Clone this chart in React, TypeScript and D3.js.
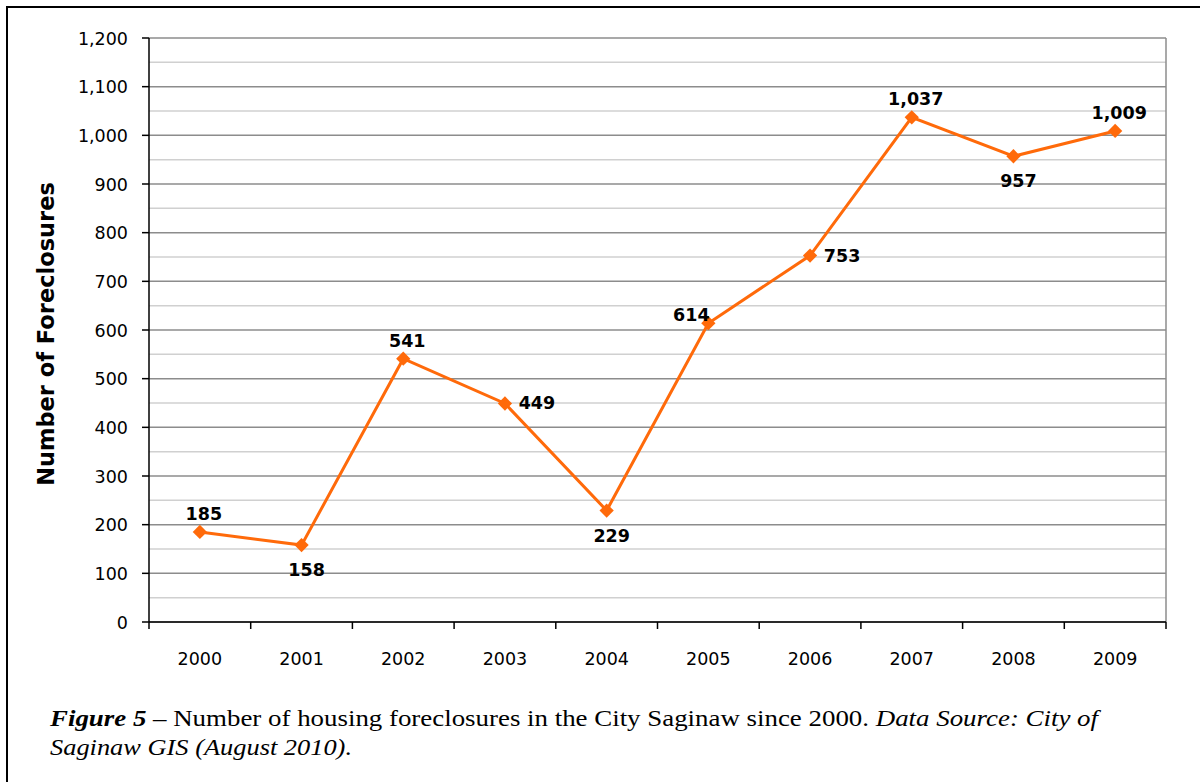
import React from "react";
import * as d3 from "d3";

const years = ["2000", "2001", "2002", "2003", "2004", "2005", "2006", "2007", "2008", "2009"];
const foreclosures = [185, 158, 541, 449, 229, 614, 753, 1037, 957, 1009];
const labelPlacement = ["above", "below", "above", "right", "below", "aboveLeft", "right", "above", "below", "above"];
const yTicks = [0, 100, 200, 300, 400, 500, 600, 700, 800, 900, 1000, 1100, 1200];
const minorTicks = [50, 150, 250, 350, 450, 550, 650, 750, 850, 950, 1050, 1150];

export default function App() {
  const W = 1200, H = 782;
  const left = 149, right = 1166, top = 38, bottom = 622;
  const x = d3.scaleBand<string>().domain(years).range([left, right]).padding(0);
  const y = d3.scaleLinear().domain([0, 1200]).range([bottom, top]);
  const fmt = d3.format(",");
  const line = d3.line<number>()
    .x((_, i) => (x(years[i]) as number) + x.bandwidth() / 2)
    .y((d) => y(d));
  const orange = "#FF6A0A";
  const diamond = d3.symbol().type(d3.symbolDiamond2).size(130)();
  const sans = "DejaVu Sans, Verdana, sans-serif";
  const serif = "Liberation Serif, Times New Roman, serif";

  const offset = (p: string) => {
    switch (p) {
      case "above": return { dx: 4, dy: -12 };
      case "below": return { dx: 5, dy: 31 };
      case "right": return { dx: 32, dy: 6 };
      case "aboveLeft": return { dx: -17, dy: -2 };
      default: return { dx: 0, dy: 0 };
    }
  };

  return (
    <svg width={W} height={H} style={{ position: "absolute", left: 0, top: 0 }}>
      <rect x={0} y={0} width={W} height={H} fill="#fff" />
      <rect x={7} y={7} width={1210} height={800} fill="none" stroke="#000" strokeWidth={2} />
      {minorTicks.map((t) => (
        <line key={"m" + t} x1={left} x2={right} y1={y(t)} y2={y(t)} stroke="#d0d0d0" strokeWidth={1.5} />
      ))}
      {yTicks.map((t) => (
        <line key={"g" + t} x1={left} x2={right} y1={y(t)} y2={y(t)} stroke="#8c8c8c" strokeWidth={1.5} />
      ))}
      <line x1={right} x2={right} y1={top} y2={bottom} stroke="#8c8c8c" strokeWidth={1.5} />
      <line x1={left} x2={left} y1={top} y2={bottom} stroke="#000" strokeWidth={1.5} />
      <line x1={left} x2={right} y1={bottom} y2={bottom} stroke="#000" strokeWidth={1.5} />
      {yTicks.map((t) => (
        <g key={"yt" + t}>
          <line x1={left - 7} x2={left} y1={y(t)} y2={y(t)} stroke="#000" strokeWidth={1.5} />
          <text x={128} y={y(t) + 6.5} textAnchor="end" fontFamily={sans} fontSize={17.5} fill="#000">{fmt(t)}</text>
        </g>
      ))}
      {years.map((yr) => (
        <line key={"xt" + yr} x1={x(yr) as number} x2={x(yr) as number} y1={bottom} y2={bottom + 7} stroke="#000" strokeWidth={1.5} />
      ))}
      <line x1={right} x2={right} y1={bottom} y2={bottom + 7} stroke="#000" strokeWidth={1.5} />
      {years.map((yr) => (
        <text key={"xl" + yr} x={(x(yr) as number) + x.bandwidth() / 2} y={665} textAnchor="middle" fontFamily={sans} fontSize={17.5} fill="#000">{yr}</text>
      ))}
      <text transform="translate(54,334) rotate(-90)" textAnchor="middle" fontFamily={sans} fontWeight="bold" fontSize={22.5} fill="#000">Number of Foreclosures</text>
      <path d={line(foreclosures) as string} fill="none" stroke={orange} strokeWidth={3} />
      {foreclosures.map((v, i) => (
        <path key={"p" + i} d={diamond as string} transform={`translate(${(x(years[i]) as number) + x.bandwidth() / 2},${y(v)})`} fill={orange} />
      ))}
      {foreclosures.map((v, i) => {
        const o = offset(labelPlacement[i]);
        return (
          <text key={"l" + i} x={(x(years[i]) as number) + x.bandwidth() / 2 + o.dx} y={y(v) + o.dy} textAnchor="middle" fontFamily={sans} fontWeight="bold" fontSize={17.5} fill="#000">{fmt(v)}</text>
        );
      })}
      <text x={50} y={726} fontFamily={serif} fontSize={24} fill="#000" textLength={1048} lengthAdjust="spacingAndGlyphs">
        <tspan fontWeight="bold" fontStyle="italic">Figure 5</tspan>
        <tspan> – Number of housing foreclosures in the City Saginaw since 2000.  </tspan>
        <tspan fontStyle="italic">Data Source: City of</tspan>
      </text>
      <text x={50} y={755} fontFamily={serif} fontSize={24} fontStyle="italic" fill="#000" textLength={302} lengthAdjust="spacingAndGlyphs">Saginaw GIS (August 2010).</text>
    </svg>
  );
}
